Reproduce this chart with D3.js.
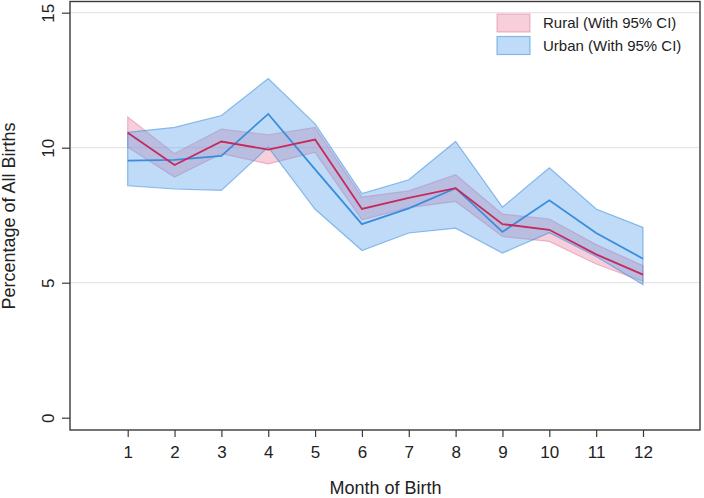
<!DOCTYPE html>
<html>
<head>
<meta charset="utf-8">
<script src="https://cdn.jsdelivr.net/npm/d3@7"></script>
<style>
  html, body { margin: 0; padding: 0; background: #fff; }
  svg { display: block; font-family: "Liberation Sans", Arial, sans-serif; }
</style>
</head>
<body>
<svg id="chart" width="704" height="498"></svg>
<script>
const months = [1, 2, 3, 4, 5, 6, 7, 8, 9, 10, 11, 12];
const ruralMean  = [10.55, 9.36, 10.23, 9.93, 10.30, 7.73, 8.14, 8.50, 7.17, 6.96, 6.05, 5.30];
const ruralLower = [10.02, 8.91, 9.78, 9.40, 9.83, 7.33, 7.78, 8.01, 6.71, 6.53, 5.69, 5.05];
const ruralUpper = [11.14, 9.78, 10.69, 10.48, 10.75, 8.17, 8.40, 9.00, 7.54, 7.36, 6.41, 5.63];
const urbanMean  = [9.52, 9.55, 9.70, 11.25, 9.20, 7.17, 7.75, 8.50, 6.88, 8.05, 6.84, 5.89];
const urbanLower = [8.59, 8.47, 8.42, 10.02, 7.72, 6.19, 6.84, 7.02, 6.10, 6.85, 5.97, 4.93];
const urbanUpper = [10.57, 10.75, 11.19, 12.56, 10.88, 8.30, 8.81, 10.23, 7.80, 9.26, 7.73, 7.05];
const yTicks = [0, 5, 10, 15];
const gridValues = [5, 10, 15];
const legendLabels = ["Rural (With 95% CI)", "Urban (With 95% CI)"];

const svg = d3.select("#chart");
const frame = {left: 70, right: 700, top: 1.5, bottom: 430};

const x = d3.scaleLinear().domain([1, 12]).range([127.7, 643]);
const y = d3.scaleLinear().domain([0, 15]).range([417.7, 12.7]);

// gridlines
svg.append("g").selectAll("line").data(gridValues).join("line")
  .attr("x1", frame.left).attr("x2", frame.right)
  .attr("y1", d => y(d)).attr("y2", d => y(d))
  .attr("stroke", "#e6e6e6").attr("stroke-width", 1.2);

function rows(mean, lo, hi) {
  return months.map((m, i) => ({m, mean: mean[i], lo: lo[i], hi: hi[i]}));
}
const rural = rows(ruralMean, ruralLower, ruralUpper);
const urban = rows(urbanMean, urbanLower, urbanUpper);

const area = d3.area().x(d => x(d.m)).y0(d => y(d.lo)).y1(d => y(d.hi));
const line = d3.line().x(d => x(d.m)).y(d => y(d.mean));

const ruralFill = "rgba(225,95,135,0.30)";
const ruralEdge = "rgba(225,110,150,0.45)";
const urbanFill = "rgba(95,165,235,0.40)";
const urbanEdge = "rgba(60,140,220,0.55)";

svg.append("path").datum(rural).attr("d", area)
  .attr("fill", ruralFill).attr("stroke", ruralEdge).attr("stroke-width", 1.2);
svg.append("path").datum(urban).attr("d", area)
  .attr("fill", urbanFill).attr("stroke", urbanEdge).attr("stroke-width", 1.2);

svg.append("path").datum(urban).attr("d", line)
  .attr("fill", "none").attr("stroke", "#3a8ddc").attr("stroke-width", 1.8);
svg.append("path").datum(rural).attr("d", line)
  .attr("fill", "none").attr("stroke", "#c42a5e").attr("stroke-width", 1.8);

// frame
svg.append("rect")
  .attr("x", frame.left).attr("y", frame.top)
  .attr("width", frame.right - frame.left).attr("height", frame.bottom - frame.top)
  .attr("fill", "none").attr("stroke", "#3a3a3a").attr("stroke-width", 1.4);

// y axis
const yAxis = svg.append("g").attr("transform", `translate(${frame.left},0)`)
  .call(d3.axisLeft(y).tickValues(yTicks).tickSize(8).tickFormat(d3.format("d")));
yAxis.select(".domain").remove();
yAxis.selectAll(".tick line").attr("stroke", "#3a3a3a").attr("stroke-width", 1.2);
yAxis.selectAll(".tick text")
  .attr("x", 0).attr("y", 0).attr("dy", "0.35em")
  .attr("text-anchor", "middle")
  .attr("transform", "translate(-21.5,0) rotate(-90)")
  .attr("font-size", 17).attr("fill", "#222")
  .style("font-family", "Liberation Sans, Arial, sans-serif");

// x axis
const xAxis = svg.append("g").attr("transform", `translate(0,${frame.bottom})`)
  .call(d3.axisBottom(x).tickValues(months).tickSize(7).tickPadding(9).tickFormat(d3.format("d")));
xAxis.select(".domain").remove();
xAxis.selectAll(".tick line").attr("stroke", "#3a3a3a").attr("stroke-width", 1.2);
xAxis.selectAll(".tick text")
  .attr("font-size", 17).attr("fill", "#222")
  .style("font-family", "Liberation Sans, Arial, sans-serif");

// axis titles
svg.append("text")
  .attr("x", 385.5).attr("y", 494)
  .attr("text-anchor", "middle").attr("font-size", 18).attr("fill", "#222")
  .text("Month of Birth");
svg.append("text")
  .attr("transform", "translate(15,216) rotate(-90)")
  .attr("text-anchor", "middle").attr("font-size", 18).attr("fill", "#222")
  .text("Percentage of All Births");

// legend
const legend = svg.append("g");
const legendFills = [ruralFill, urbanFill];
const legendEdges = [ruralEdge, urbanEdge];
legendLabels.forEach((lab, i) => {
  const yy = 14 + i * 22.5;
  legend.append("rect")
    .attr("x", 497).attr("y", yy).attr("width", 33).attr("height", 18)
    .attr("fill", legendFills[i]).attr("stroke", legendEdges[i]).attr("stroke-width", 1.2);
  legend.append("text")
    .attr("x", 543).attr("y", yy + 9).attr("dy", "0.35em")
    .attr("font-size", 15).attr("fill", "#222")
    .text(lab);
});
</script>
</body>
</html>
